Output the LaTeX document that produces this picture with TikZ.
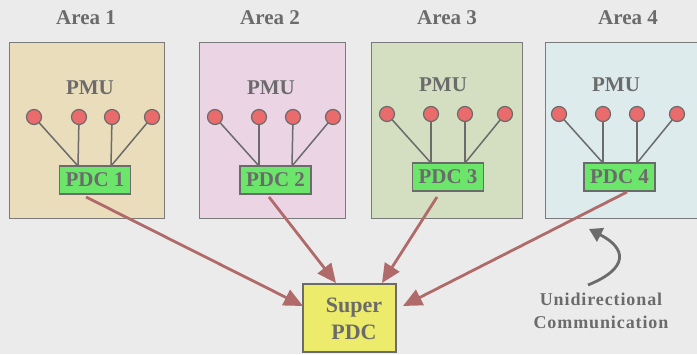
\documentclass[tikz,border=0pt]{standalone}
\usepackage{fontspec}
\setmainfont{Liberation Serif}
\usetikzlibrary{arrows.meta}
\definecolor{bg}{HTML}{EBEBEB}
\definecolor{txt}{HTML}{6B6B6B}
\definecolor{edge}{HTML}{7A7A7A}
\definecolor{aone}{HTML}{EADDBB}
\definecolor{atwo}{HTML}{EBD5E4}
\definecolor{athree}{HTML}{D3DFC0}
\definecolor{afour}{HTML}{DDEBEC}
\definecolor{pmu}{HTML}{EA6B6B}
\definecolor{pdc}{HTML}{6BE66B}
\definecolor{super}{HTML}{EDEB6B}
\definecolor{arr}{HTML}{B06A6A}
\tikzset{
  areabox/.style={draw=edge, line width=1pt},
  title/.style={text=txt, font=\fontsize{21}{22}\selectfont\bfseries},
  pmulabel/.style={text=txt, font=\fontsize{21}{22}\selectfont\bfseries},
  pmudot/.style={circle, draw=txt, fill=pmu, line width=1.2pt, minimum size=15pt, inner sep=0pt},
  pdcbox/.style={draw=txt, fill=pdc, line width=1.2pt, text=txt, font=\fontsize{21}{22}\selectfont\bfseries, minimum width=71pt, minimum height=28pt, inner sep=0pt},
  wire/.style={draw=txt, line width=1.5pt},
  flow/.style={draw=arr, line width=2.8pt, -{Triangle[length=19pt,width=17pt]}},
}
\begin{document}
\begin{tikzpicture}[x=1pt,y=-1pt]
\fill[bg] (0,0) rectangle (697,354);
\useasboundingbox (0,0) rectangle (697,354);
% area boxes
\draw[areabox, fill=aone] (9,42) rectangle (164,218);
\draw[areabox, fill=atwo] (199,42) rectangle (345,218);
\draw[areabox, fill=athree] (371,42) rectangle (522,218);
\draw[areabox, fill=afour] (545,42) rectangle (705,218);
% titles
\node[title] (t1) at (86,18) {Area 1};
\node[title] (t2) at (270,18) {Area 2};
\node[title] (t3) at (447,18) {Area 3};
\node[title] (t4) at (628,18) {Area 4};
% PMU labels
\node[pmulabel] (m1) at (90,88) {PMU};
\node[pmulabel] (m2) at (271,88) {PMU};
\node[pmulabel] (m3) at (443,85) {PMU};
\node[pmulabel] (m4) at (616,85) {PMU};
% PDC boxes
\node[pdcbox] (p1) at (95,180) {PDC 1};
\node[pdcbox] (p2) at (275.5,180) {PDC 2};
\node[pdcbox] (p3) at (448,177) {PDC 3};
\node[pdcbox] (p4) at (619.5,177) {PDC 4};
% PMU dots and wires
\foreach \a/\xa/\xb/\xc/\xd/\yy/\la/\lb in {1/34/79/112/152/117/78/111, 2/215/259/293/333/117/259/292, 3/387/431/465/505/114/431/465, 4/559/603/637/677/114/603/637}{
  \coordinate (j\a a) at (\la,{\yy+49});
  \coordinate (j\a b) at (\lb,{\yy+49});
  \draw[wire] (\xa,\yy) -- (j\a a);
  \draw[wire] (\xb,\yy) -- (j\a a);
  \draw[wire] (\xc,\yy) -- (j\a b);
  \draw[wire] (\xd,\yy) -- (j\a b);
  \node[pmudot] (d\a a) at (\xa,\yy) {};
  \node[pmudot] (d\a b) at (\xb,\yy) {};
  \node[pmudot] (d\a c) at (\xc,\yy) {};
  \node[pmudot] (d\a d) at (\xd,\yy) {};
}
% super PDC
\node[draw=txt, fill=super, line width=1.2pt, minimum width=93pt, minimum height=68pt, inner sep=0pt] (sp) at (349.5,318) {};
\node[text=txt, font=\fontsize{22}{27}\selectfont\bfseries, align=center] (spt) at (354,319) {Super\\PDC};
% flows
\coordinate (s1) at (86,197);
\coordinate (s2) at (269,197);
\coordinate (s3) at (437,197);
\coordinate (s4) at (627,192);
\coordinate (e1) at (303,306);
\coordinate (e2) at (336,283);
\coordinate (e3) at (382,283);
\coordinate (e4) at (403,306);
\draw[flow] (s1) -- (e1);
\draw[flow] (s2) -- (e2);
\draw[flow] (s3) -- (e3);
\draw[flow] (s4) -- (e4);
% annotation
\coordinate (ct) at (588,285);
\coordinate (ch) at (589,229);
\draw[draw=txt, line width=2.8pt, -{Triangle[length=13pt,width=15pt]}] (ct) .. controls (630,268) and (626,248) .. (ch);
\node[text=txt, font=\fontsize{18}{23}\selectfont\bfseries\addfontfeatures{LetterSpace=5}, align=center] (lab) at (601,311) {Unidirectional\\Communication};
\end{tikzpicture}
\end{document}
